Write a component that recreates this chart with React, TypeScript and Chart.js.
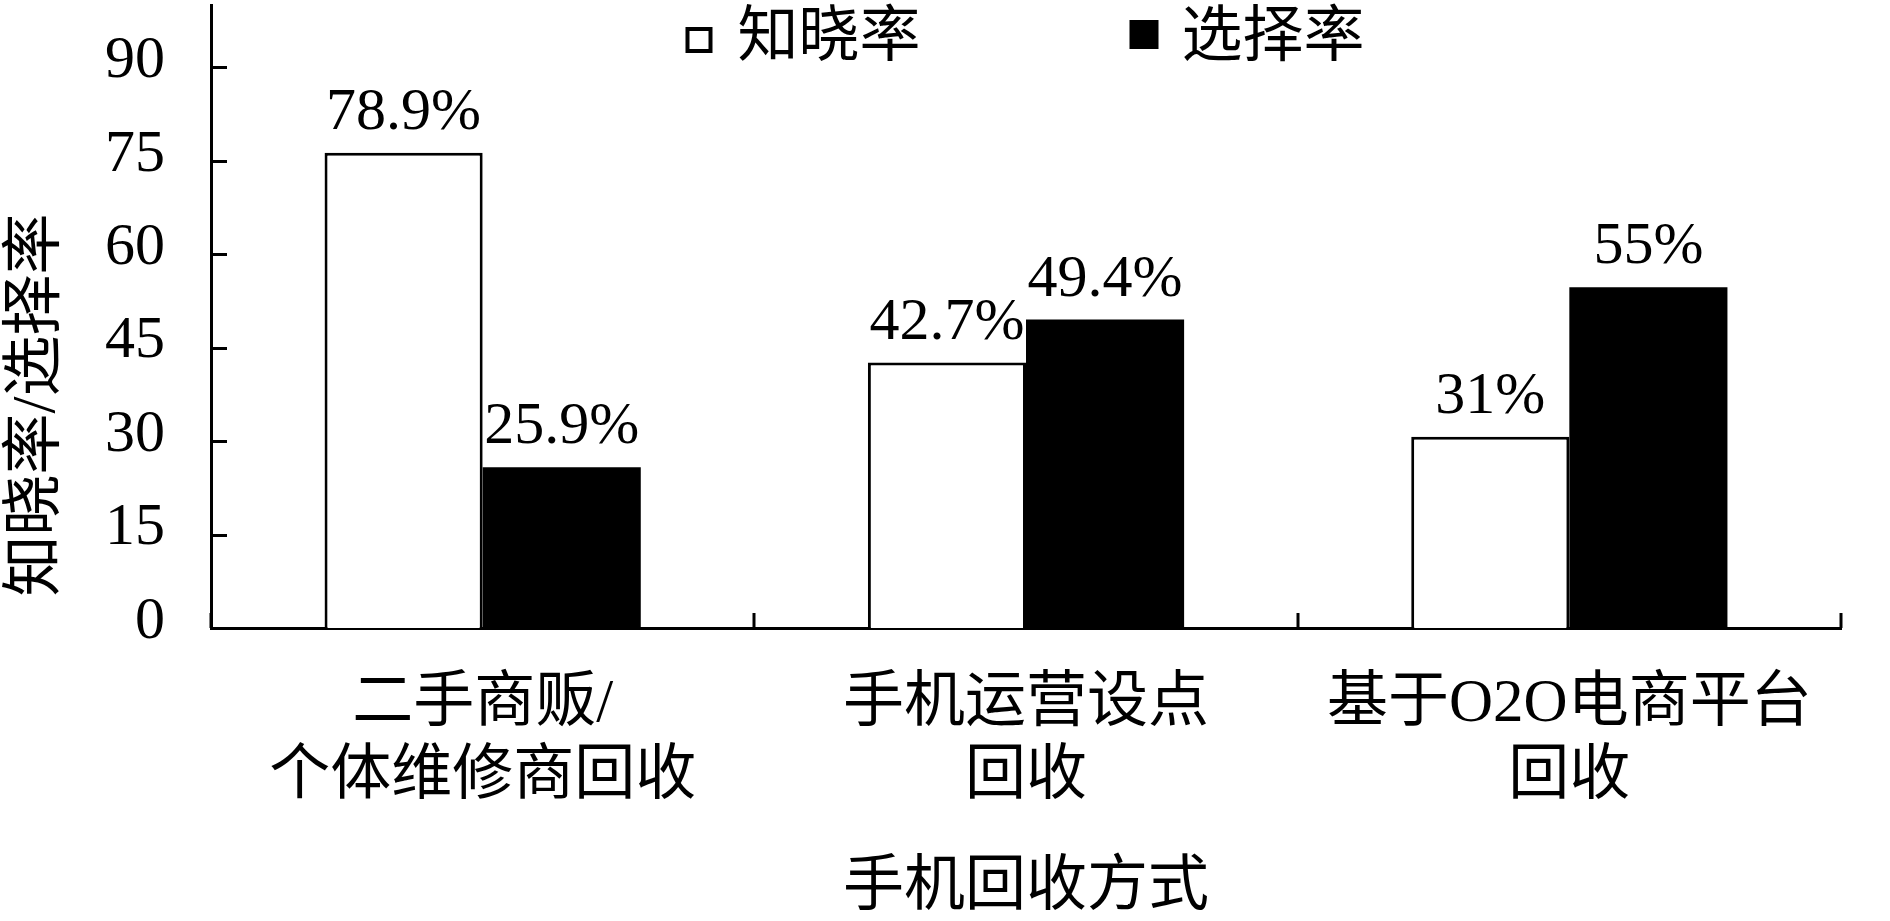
import React, { useEffect, useRef } from 'react';
import { Chart, registerables } from 'chart.js';

Chart.register(...registerables);

const categories: string[][] = [
  ['二手商贩/', '个体维修商回收'],
  ['手机运营设点', '回收'],
  ['基于O2O电商平台', '回收'],
];
const seriesNames = ['知晓率', '选择率'];
const awareness = [76.3, 42.6, 30.7];
const selection = [25.8, 49.5, 54.7];
const awarenessLabels = ['78.9%', '42.7%', '31%'];
const selectionLabels = ['25.9%', '49.4%', '55%'];
const yTicks = [0, 15, 30, 45, 60, 75, 90];
const yTitle = '知晓率/选择率';
const xTitle = '手机回收方式';

const SERIF = '"Liberation Serif", "Noto Sans CJK SC", serif';
const CJK = '"Liberation Serif", "Noto Sans CJK SC", sans-serif';

const decorPlugin = {
  id: 'decor',
  afterDatasetsDraw(chart: any) {
    const { ctx, chartArea } = chart;
    const xs = chart.scales.x;
    const ys = chart.scales.y;
    ctx.save();
    ctx.strokeStyle = '#000';
    ctx.lineWidth = 3;
    // inward y tick marks
    yTicks.forEach((v) => {
      const y = Math.round(ys.getPixelForValue(v)) + 0.5;
      ctx.beginPath();
      ctx.moveTo(chartArea.left, y);
      ctx.lineTo(chartArea.left + 16, y);
      ctx.stroke();
    });
    // inward x tick marks at category boundaries
    for (let i = 0; i <= categories.length; i++) {
      const x = Math.round(xs.getPixelForValue(i - 0.5));
      ctx.beginPath();
      ctx.moveTo(x, chartArea.bottom);
      ctx.lineTo(x, chartArea.bottom - 15);
      ctx.stroke();
    }
    // value labels
    ctx.fillStyle = '#000';
    ctx.font = `60px ${SERIF}`;
    ctx.textAlign = 'center';
    ctx.textBaseline = 'alphabetic';
    const labelSets = [awarenessLabels, selectionLabels];
    chart.data.datasets.forEach((_: any, di: number) => {
      const meta = chart.getDatasetMeta(di);
      meta.data.forEach((bar: any, i: number) => {
        ctx.fillText(labelSets[di][i], bar.x, bar.y - 24);
      });
    });
    // legend
    ctx.font = `61px ${CJK}`;
    ctx.textBaseline = 'middle';
    ctx.textAlign = 'left';
    const boxW = 27;
    const solidW = 29;
    const gap = 25;
    const itemGap = 209;
    const w0 = ctx.measureText(seriesNames[0]).width;
    const w1 = ctx.measureText(seriesNames[1]).width;
    const total = boxW + gap + w0 + itemGap + solidW + gap + w1;
    const cx = (chartArea.left + chartArea.right) / 2;
    let x = cx - total / 2;
    const ly = chartArea.top + 35;
    ctx.lineWidth = 4;
    ctx.strokeRect(x + 2, ly - 13 + 2, boxW - 4, 26 - 4);
    x += boxW + gap;
    ctx.fillText(seriesNames[0], x, ly);
    x += w0 + itemGap;
    ctx.fillRect(x, ly - 20, solidW, solidW);
    x += solidW + gap - 2;
    ctx.fillText(seriesNames[1], x, ly);
    // y axis title
    ctx.save();
    ctx.translate(chartArea.left - 173, chartArea.top + 400);
    ctx.rotate(-Math.PI / 2);
    ctx.textAlign = 'center';
    ctx.textBaseline = 'middle';
    ctx.font = `61px ${CJK}`;
    ctx.fillText(yTitle, 0, 0);
    ctx.restore();
    ctx.restore();
  },
};

export default function App() {
  const ref = useRef<HTMLCanvasElement>(null);
  useEffect(() => {
    if (!ref.current) return;
    const chart = new Chart(ref.current, {
      type: 'bar',
      data: {
        labels: categories,
        datasets: [
          {
            label: seriesNames[0],
            data: awareness,
            backgroundColor: '#ffffff',
            borderColor: '#000000',
            borderWidth: 3,
            borderSkipped: 'bottom',
          },
          {
            label: seriesNames[1],
            data: selection,
            backgroundColor: '#000000',
            borderColor: '#000000',
            borderWidth: 0,
          },
        ],
      },
      options: {
        responsive: false,
        animation: false,
        devicePixelRatio: 1,
        layout: { padding: { top: 5, right: 49, left: 0, bottom: 0 } },
        datasets: { bar: { categoryPercentage: 0.582, barPercentage: 1 } },
        plugins: {
          legend: { display: false },
          tooltip: { enabled: false },
        },
        scales: {
          x: {
            grid: { display: false, drawTicks: false },
            border: { display: true, color: '#000', width: 3 },
            ticks: {
              color: '#000',
              font: { family: CJK, size: 61, lineHeight: 1.2 },
              padding: 40,
              maxRotation: 0,
              autoSkip: false,
            },
            title: {
              display: true,
              text: xTitle,
              color: '#000',
              font: { family: CJK, size: 61, lineHeight: 1 },
              padding: { top: 0, bottom: 2 },
            },
            afterFit: (s: any) => {
              s.height = 293;
              s.paddingLeft = 0;
              s.paddingRight = 0;
              s.paddingTop = 0;
              s.paddingBottom = 0;
            },
          },
          y: {
            min: 0,
            max: 100,
            grid: { display: false, drawTicks: false },
            border: { display: true, color: '#000', width: 3 },
            ticks: {
              color: '#000',
              font: { family: SERIF, size: 60 },
              padding: 46,
              labelOffset: -6,
            },
            afterBuildTicks: (s: any) => {
              s.ticks = yTicks.map((v) => ({ value: v }));
            },
            afterFit: (s: any) => {
              s.width = 211;
              s.paddingLeft = 0;
              s.paddingRight = 0;
              s.paddingTop = 0;
              s.paddingBottom = 0;
            },
          },
        },
      },
      plugins: [decorPlugin],
    });
    return () => chart.destroy();
  }, []);
  return (
    <div style={{ position: 'fixed', left: 0, top: 0, width: 1890, height: 921, background: '#fff' }}>
      <canvas ref={ref} width={1890} height={921} style={{ width: 1890, height: 921, display: 'block' }} />
    </div>
  );
}
